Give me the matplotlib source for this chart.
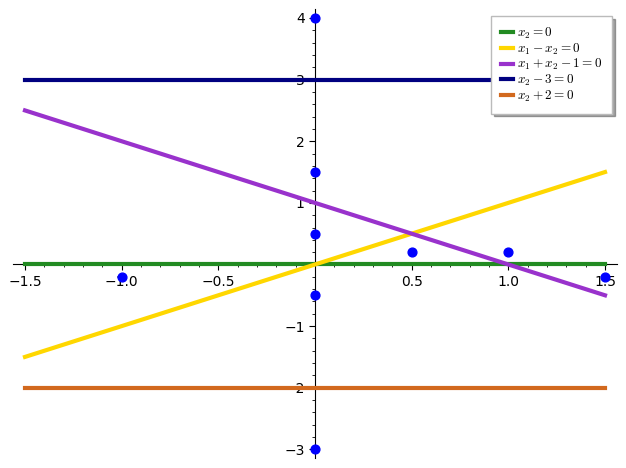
import matplotlib
matplotlib.use("Agg")
import matplotlib.pyplot as plt
import numpy as np
from matplotlib.ticker import MultipleLocator

plt.rcParams['mathtext.fontset'] = 'cm'

# data
x_range = [-1.5, 1.5]
labels = [r'$x_{2} = 0$', r'$x_{1} - x_{2} = 0$', r'$x_{1} + x_{2} - 1 = 0$',
          r'$x_{2} - 3 = 0$', r'$x_{2} + 2 = 0$']
colors = ['#228B22', '#FFD700', '#9932CC', '#000080', '#D2691E']
# lines as x2 = a*x1 + b
slopes = [0, 1, -1, 0, 0]
intercepts = [0, 0, 1, 3, -2]
pts_x = [0, 0, 0, 0, 0, -1.0, 0.5, 1.0, 1.5]
pts_y = [4, 1.5, 0.5, -0.5, -3, -0.2, 0.2, 0.2, -0.2]

fig = plt.figure(figsize=(6.26, 4.68), dpi=100)
ax = fig.add_axes([0.0214, 0.0214, 0.985 - 0.0214, 0.980 - 0.0214])

xs = np.array(x_range)
for a, b, c, lab in zip(slopes, intercepts, colors, labels):
    ax.plot(xs, a * xs + b, color=c, lw=3, label=lab, zorder=2)
ax.scatter(pts_x, pts_y, color='#0000FF', s=40, zorder=5, clip_on=False)

ax.set_xlim(-1.56, 1.56)
ax.set_ylim(-3.14, 4.14)

for s in ['top', 'right']:
    ax.spines[s].set_visible(False)
ax.spines['left'].set_position(('data', 0))
ax.spines['bottom'].set_position(('data', 0))
ax.spines['left'].set_zorder(1)
ax.spines['bottom'].set_zorder(1)

ax.xaxis.set_major_locator(MultipleLocator(0.5))
ax.xaxis.set_minor_locator(MultipleLocator(0.1))
ax.yaxis.set_major_locator(MultipleLocator(1))
ax.yaxis.set_minor_locator(MultipleLocator(0.2))

xt = [-1.5, -1.0, -0.5, 0.5, 1.0, 1.5]
ax.set_xticks(xt)
ax.set_xticklabels(['\u22121.5', '\u22121.0', '\u22120.5', '0.5', '1.0', '1.5'])
yt = [-3, -2, -1, 1, 2, 3, 4]
ax.set_yticks(yt)
ax.set_yticklabels(['\u22123', '\u22122', '\u22121', '1', '2', '3', '4'])
ax.tick_params(which='major', length=4, labelsize=10)
ax.tick_params(which='minor', length=2)

leg = ax.legend(loc='upper right', bbox_to_anchor=(0.9985, 0.994), fancybox=False, shadow=True,
                fontsize=9.5, handlelength=0.9, handletextpad=0.3, labelspacing=0.03,
                borderpad=0.75, borderaxespad=0.3, framealpha=1)
leg.get_frame().set_edgecolor('#bbbbbb')

fig.savefig('out.png', dpi=100)
